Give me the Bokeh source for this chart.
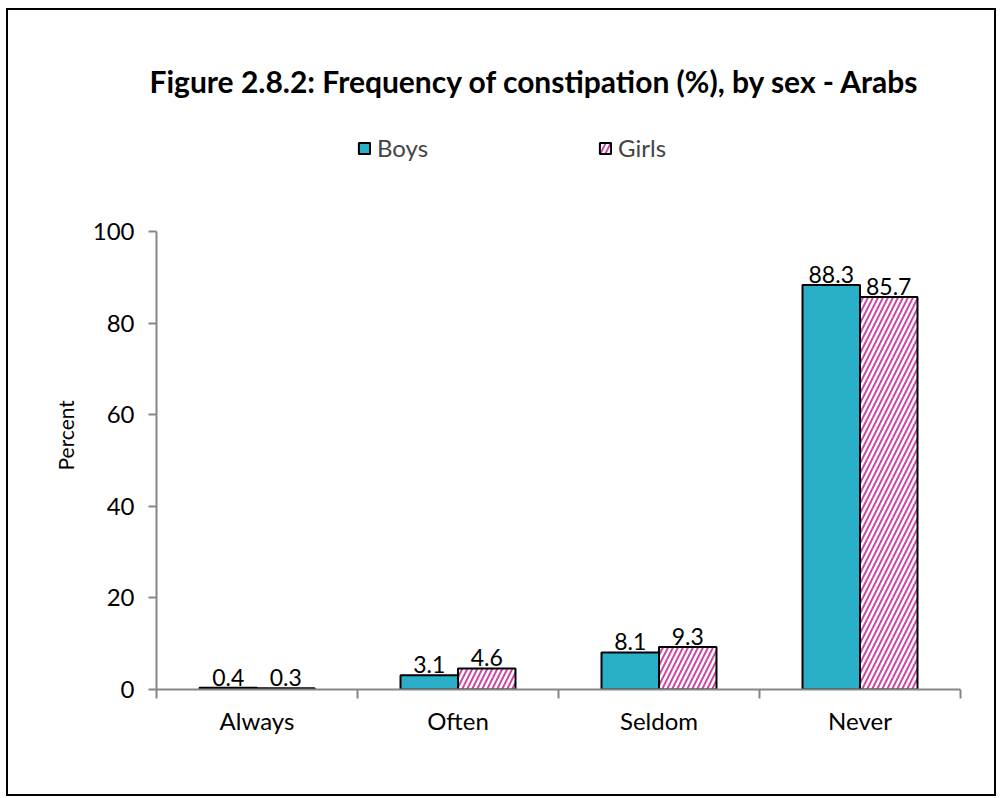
import numpy as np
from bokeh.plotting import figure
from bokeh.models import (ColumnDataSource, FixedTicker, Legend, LegendItem,
                          LabelSet, Title, Range1d)
from bokeh.core.properties import value
from bokeh.embed import file_html
from bokeh.resources import INLINE

categories = ["Always", "Often", "Seldom", "Never"]
boys = [0.4, 3.1, 8.1, 88.3]
girls = [0.3, 4.6, 9.3, 85.7]
y_ticks = [0, 20, 40, 60, 80, 100]

FONT = "Lato"
BAR_W = 0.286
centers = np.arange(len(categories)) + 0.5

src_b = ColumnDataSource(dict(x=centers - BAR_W / 2, top=boys,
                              lab=[f"{v:.1f}" for v in boys]))
src_g = ColumnDataSource(dict(x=centers + BAR_W / 2, top=girls,
                              lab=[f"{v:.1f}" for v in girls]))

FRAME_H = 569
p = figure(frame_width=804, frame_height=FRAME_H, output_backend="svg",
           toolbar_location=None,
           x_range=Range1d(0, len(categories)),
           y_range=Range1d(0, 100 * FRAME_H / 458),
           min_border_left=148, min_border_right=34, min_border_top=110,
           min_border_bottom=105)
p.outline_line_color = None
p.border_fill_color = "white"
p.background_fill_color = "white"
p.xgrid.visible = False
p.ygrid.visible = False

rb = p.vbar(x="x", top="top", width=BAR_W, source=src_b, fill_color="#2AAFC9",
            line_color="black", line_width=2)
rg = p.vbar(x="x", top="top", width=BAR_W, source=src_g, fill_color="white",
            line_color="black", line_width=2, hatch_pattern="/",
            hatch_color="#C8359A", hatch_weight=2, hatch_scale=10,
            hatch_alpha=0.9)

for s in (src_b, src_g):
    p.add_layout(LabelSet(x="x", y="top", text="lab", source=s, y_offset=2,
                          text_align="center", text_baseline="bottom",
                          text_font=value(FONT), text_font_size="23px",
                          text_color="black"))

AX = "#868686"
xa = p.xaxis[0]
xa.ticker = FixedTicker(ticks=list(centers), minor_ticks=list(range(len(categories) + 1)))
xa.major_label_overrides = {float(c): cat for c, cat in zip(centers, categories)}
xa.major_tick_line_color = None
xa.minor_tick_out = 9
xa.minor_tick_in = 0
xa.minor_tick_line_color = AX
xa.axis_line_color = AX
xa.axis_line_width = 2
xa.minor_tick_line_width = 2
xa.major_label_text_font = FONT
xa.major_label_text_font_size = "24px"
xa.major_label_text_color = "black"
xa.major_label_standoff = 7

ya = p.yaxis[0]
ya.bounds = (y_ticks[0], y_ticks[-1])
ya.ticker = FixedTicker(ticks=y_ticks, minor_ticks=[])
ya.axis_line_color = AX
ya.axis_line_width = 2
ya.major_tick_line_color = AX
ya.major_tick_line_width = 2
ya.major_tick_out = 8
ya.major_tick_in = 0
ya.minor_tick_line_color = None
ya.major_label_text_font = FONT
ya.major_label_text_font_size = "24px"
ya.major_label_text_color = "black"
ya.major_label_standoff = 14

ytitle = Title(text="Percent", align="left", offset=219, standoff=24,
               text_font=FONT, text_font_size="21px",
               text_font_style="normal", text_color="black")
p.add_layout(ytitle, "left")

legend = Legend(items=[LegendItem(label="Boys", renderers=[rb]),
                       LegendItem(label="Girls", renderers=[rg])],
                orientation="horizontal", location=(201, 527),
                spacing=170, glyph_width=14, glyph_height=14, label_standoff=6,
                label_text_font=FONT, label_text_font_size="24px",
                border_line_alpha=0, background_fill_alpha=0,
                margin=0, padding=0)
p.add_layout(legend, "center")

title = Title(text="Figure 2.8.2: Frequency of constipation (%), by sex - Arabs",
              align="left", text_font=FONT, text_font_size="30px",
              text_font_style="bold", text_color="black", standoff=43,
              offset=-7)
p.add_layout(title, "above")

p.styles = {"margin-left": "6px", "margin-top": "8px",
            "border": "2px solid black"}

open("out.html", "w").write(file_html(p, INLINE))
